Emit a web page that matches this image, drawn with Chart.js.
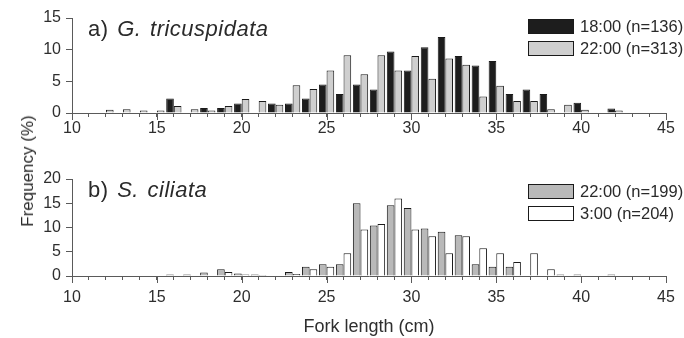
<!DOCTYPE html>
<html>
<head>
<meta charset="utf-8">
<script src="https://cdn.jsdelivr.net/npm/chart.js@4/dist/chart.umd.min.js"></script>
<style>
  html, body { margin: 0; padding: 0; background: #fff; }
  body { width: 684px; height: 338px; position: relative; overflow: hidden;
         font-family: "Liberation Sans", Arial, sans-serif; color: #2a2a2a; }
  .panel { position: absolute; left: 0; width: 684px; }
  #panelA { top: 0; height: 142px; }
  #panelB { top: 160px; height: 178px; }
  .ptitle { position: absolute; left: 88px; font-size: 22px; line-height: 22px;
            letter-spacing: 0.5px; word-spacing: 2px; white-space: nowrap; }
  .ptitle i { font-style: italic; }
  .legend { position: absolute; left: 528px; font-size: 16.5px; }
  .legend .row { display: flex; align-items: center; height: 15px; margin-bottom: 7px; white-space: nowrap; }
  .legend .sw { width: 44px; height: 13px; border: 1px solid #1a1a1a; margin-right: 6px; }
  #ylab { position: absolute; left: 28px; top: 171px; font-size: 17px; white-space: nowrap;
          transform: translate(-50%, -50%) rotate(-90deg); }
</style>
</head>
<body>
<div class="panel" id="panelA"><canvas id="chartA"></canvas></div>
<div class="panel" id="panelB"><canvas id="chartB"></canvas></div>

<div class="ptitle" style="top:18px">a) <i>G. tricuspidata</i></div>
<div class="ptitle" style="top:179px">b) <i>S. ciliata</i></div>

<div class="legend" id="legendA" style="top:19px"></div>
<div class="legend" id="legendB" style="top:184px"></div>

<div id="ylab">Frequency (%)</div>

<script>
// fork length bins (cm), one bar pair per bin
const lengthBins = [12, 13, 14, 15, 16, 17, 18, 19, 20, 21, 22, 23, 24, 25, 26, 27,
                    28, 29, 30, 31, 32, 33, 34, 35, 36, 37, 38, 39, 40, 41, 42];

// a) G. tricuspidata
const gt1800 = [0, 0, 0, 0, 2.3, 0, 0.8, 0.8, 1.5, 0, 1.5, 1.5, 2.3, 4.5, 3.0, 4.5,
                3.7, 9.7, 6.7, 10.4, 12.0, 9.0, 7.5, 8.2, 3.0, 3.7, 3.0, 0, 1.6, 0, 0.7];
const gt2200 = [0.5, 0.6, 0.4, 0.4, 1.1, 0.6, 0.4, 1.1, 2.2, 1.9, 1.3, 4.4, 3.8, 6.7, 9.1, 6.1,
                9.1, 6.7, 9.0, 5.4, 8.6, 7.6, 2.6, 4.3, 1.9, 1.9, 0.6, 1.3, 0.5, 0, 0.4];

// b) S. ciliata
const sc2200 = [0, 0, 0, 0, 0.3, 0.3, 0.7, 1.4, 0.5, 0.3, 0, 0.8, 1.9, 2.4, 2.4, 15.0,
                10.4, 14.6, 14.0, 9.8, 9.1, 8.4, 2.4, 1.9, 1.9, 0, 0, 0.3, 0.3, 0, 0.3];
const sc0300 = [0, 0, 0, 0, 0, 0, 0, 0.8, 0.3, 0.2, 0, 0.4, 1.4, 1.9, 4.7, 9.6,
                10.7, 16.0, 9.6, 8.2, 4.7, 8.2, 5.7, 4.7, 2.9, 4.7, 1.4, 0, 0, 0, 0];

const seriesA = ['18:00 (n=136)', '22:00 (n=313)'];
const seriesB = ['22:00 (n=199)', '3:00 (n=204)'];

// axis ticks
const xMin = 10, xMax = 45;
const majorTickValues = [10, 15, 20, 25, 30, 35, 40, 45];
const yTicksA = [0, 5, 10, 15];
const yTicksB = [0, 5, 10, 15, 20];

const axisColor = '#5a5a5a';
const textColor = '#2e2e2e';
const edgeColor = '#1a1a1a';
const fills = {
    black: '#1d1d1d',
    lightGrey: '#cfcfcf',
    midGrey: '#b9b9b9',
    white: '#ffffff'
};

Chart.defaults.font.family = '"Liberation Sans", Arial, sans-serif';
Chart.defaults.color = textColor;
Chart.defaults.animation = false;

// longer tick marks at every 5 cm
const majorTicks = {
    id: 'majorTicks',
    afterDraw(chart) {
        const sx = chart.scales.x;
        const ctx = chart.ctx;
        ctx.save();
        ctx.strokeStyle = axisColor;
        ctx.lineWidth = 1;
        majorTickValues.forEach(v => {
            const px = Math.round(sx.getPixelForValue(v)) + 0.5;
            ctx.beginPath();
            ctx.moveTo(px, sx.top);
            ctx.lineTo(px, sx.top + 7);
            ctx.stroke();
        });
        ctx.restore();
    }
};

function toPoints(values) {
    return values.map((v, i) => ({ x: lengthBins[i], y: v }));
}

function makeChart(id, sets, yTicks, opts) {
    const ctx = document.getElementById(id).getContext('2d');
    return new Chart(ctx, {
        type: 'bar',
        data: {
            datasets: sets.map(s => ({
                label: s.label,
                data: toPoints(s.values),
                backgroundColor: s.fill,
                borderColor: edgeColor,
                borderWidth: 1,
                barPercentage: 1.0,
                categoryPercentage: 0.9
            }))
        },
        options: {
            responsive: true,
            maintainAspectRatio: false,
            layout: { padding: { top: opts.top, right: 18, left: 0, bottom: 0 } },
            plugins: {
                legend: { display: false },
                tooltip: { enabled: false }
            },
            scales: {
                x: {
                    type: 'linear',
                    min: xMin,
                    max: xMax,
                    offset: false,
                    grid: { drawOnChartArea: false, offset: false, tickLength: 4, color: axisColor },
                    border: { color: axisColor, width: 1 },
                    ticks: {
                        stepSize: 1,
                        autoSkip: false,
                        maxRotation: 0,
                        padding: opts.labelPad,
                        font: { size: 16 },
                        color: textColor,
                        callback: v => (majorTickValues.includes(v) ? String(v) : '')
                    },
                    title: opts.xTitle ? {
                        display: true,
                        text: opts.xTitle,
                        font: { size: 18 },
                        color: textColor,
                        padding: { top: 0, bottom: 0 }
                    } : { display: false },
                    afterFit: scale => { scale.height = opts.xHeight; }
                },
                y: {
                    min: yTicks[0],
                    max: yTicks[yTicks.length - 1],
                    grid: { drawOnChartArea: false, tickLength: 6, color: axisColor },
                    border: { color: axisColor, width: 1 },
                    ticks: {
                        stepSize: yTicks[1] - yTicks[0],
                        padding: 5,
                        font: { size: 16 },
                        color: textColor
                    },
                    afterFit: scale => { scale.width = 72; }
                }
            }
        },
        plugins: [majorTicks]
    });
}

function buildLegend(id, sets) {
    const box = document.getElementById(id);
    sets.forEach(s => {
        const row = document.createElement('div');
        row.className = 'row';
        const sw = document.createElement('span');
        sw.className = 'sw';
        sw.style.background = s.fill;
        const txt = document.createElement('span');
        txt.textContent = s.label;
        row.appendChild(sw);
        row.appendChild(txt);
        box.appendChild(row);
    });
}

const setsA = [
    { label: seriesA[0], values: gt1800, fill: fills.black },
    { label: seriesA[1], values: gt2200, fill: fills.lightGrey }
];
const setsB = [
    { label: seriesB[0], values: sc2200, fill: fills.midGrey },
    { label: seriesB[1], values: sc0300, fill: fills.white }
];

makeChart('chartA', setsA, yTicksA, { top: 18, xHeight: 29, labelPad: 2 });
makeChart('chartB', setsB, yTicksB, { top: 19, xHeight: 62, labelPad: 8, xTitle: 'Fork length (cm)' });

buildLegend('legendA', setsA);
buildLegend('legendB', setsB);
</script>
</body>
</html>
